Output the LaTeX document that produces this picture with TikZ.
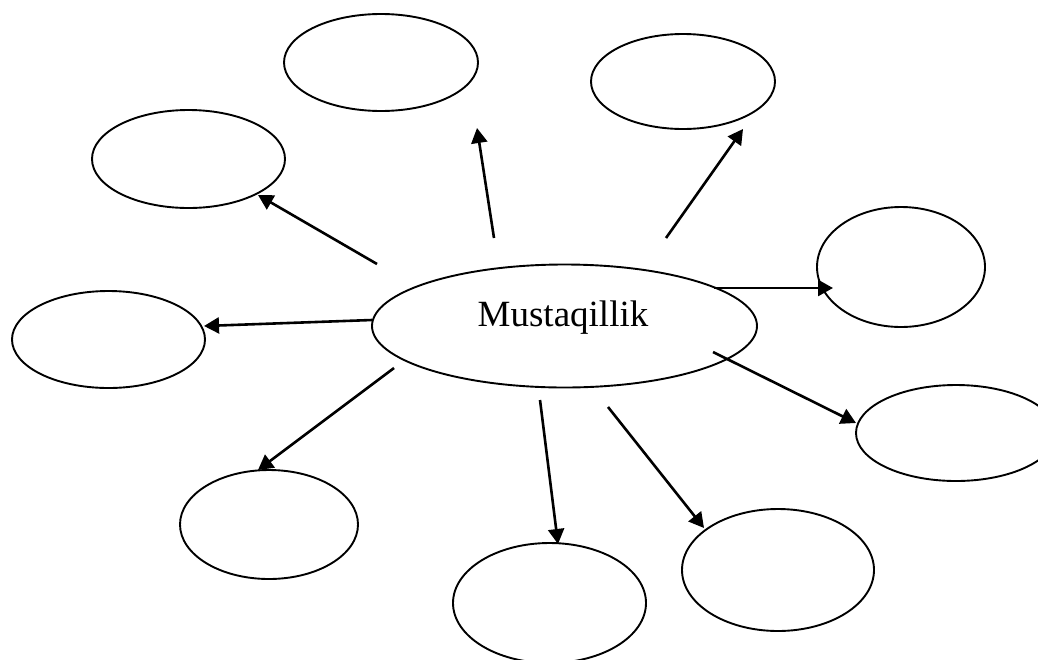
\documentclass[tikz,border=0pt]{standalone}
\usepackage{fontspec}
\setmainfont{Liberation Serif}
\usetikzlibrary{arrows.meta,shapes.geometric}
\begin{document}
\begin{tikzpicture}[x=1pt,y=-1pt,
  oval/.style={draw=black,line width=1.9pt,ellipse,inner sep=0pt,minimum width=#1},
  conn/.style={line width=2.6pt,-{Triangle[length=15pt,width=16pt]}}]
\useasboundingbox (0,0) rectangle (1038,659);
\clip (0,0) rectangle (1038,659);
% outer ellipses
\node[oval=194pt,minimum height=97pt]  (top)   at (381,62.5) {};
\node[oval=184pt,minimum height=95pt]  (topr)  at (683,81.5) {};
\node[oval=193pt,minimum height=98pt]  (upl)   at (188.5,159) {};
\node[oval=168pt,minimum height=120pt] (right) at (901,267) {};
\node[oval=193pt,minimum height=97pt]  (left)  at (108.5,339.5) {};
\node[oval=200pt,minimum height=96pt]  (lowr)  at (956,433) {};
\node[oval=178pt,minimum height=109pt] (botl)  at (269,524.5) {};
\node[oval=193pt,minimum height=120pt] (bot)   at (549.5,603) {};
\node[oval=192pt,minimum height=122pt] (botr)  at (778,570) {};
% central ellipse
\node[oval=385pt,minimum height=123pt] (center) at (564.5,326) {};
\node[inner sep=0pt] (label) at (563,318) {\fontsize{37}{44}\selectfont Mustaqillik};
% connector end points
\coordinate (s1) at (377,264);  \coordinate (e1) at (258,195);
\coordinate (s2) at (494,238);  \coordinate (e2) at (477,128);
\coordinate (s3) at (666,238);  \coordinate (e3) at (743,129);
\coordinate (s4) at (714,288);  \coordinate (e4) at (833,288);
\coordinate (s5) at (372,320);  \coordinate (e5) at (204,326);
\coordinate (s6) at (713,352);  \coordinate (e6) at (856,423);
\coordinate (s7) at (394,368);  \coordinate (e7) at (258,470);
\coordinate (s8) at (540,400);  \coordinate (e8) at (558,544);
\coordinate (s9) at (608,407);  \coordinate (e9) at (704,528);
\foreach \i in {1,...,9} \draw[conn] (s\i) -- (e\i);
\end{tikzpicture}
\end{document}
